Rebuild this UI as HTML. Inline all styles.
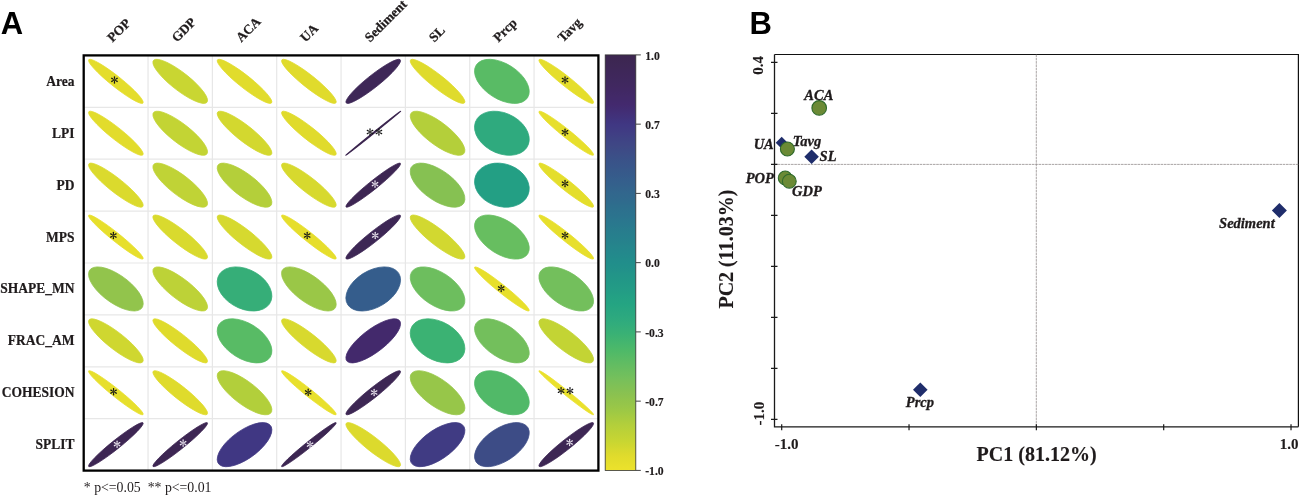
<!DOCTYPE html>
<html><head><meta charset="utf-8"><style>
html,body{margin:0;padding:0;background:#fff;}
svg{display:block;will-change:transform;}
</style></head><body>
<svg width="1299" height="495" viewBox="0 0 1299 495">
<rect width="1299" height="495" fill="#fff"/>
<text x="0.8" y="34.3" style="font-family:'Liberation Sans',sans-serif;font-weight:bold;font-size:31px" fill="#000">A</text>
<text x="749.6" y="34.2" style="font-family:'Liberation Sans',sans-serif;font-weight:bold;font-size:31px" fill="#000">B</text>
<path d="M148.04,55.4V470.6M83.7,107.30H598.4M212.38,55.4V470.6M83.7,159.20H598.4M276.71,55.4V470.6M83.7,211.10H598.4M341.05,55.4V470.6M83.7,263.00H598.4M405.39,55.4V470.6M83.7,314.90H598.4M469.72,55.4V470.6M83.7,366.80H598.4M534.06,55.4V470.6M83.7,418.70H598.4" stroke="#e7e7e7" stroke-width="1.2" fill="none"/>
<ellipse transform="translate(115.87,81.35) scale(27.343,-22.058) rotate(45)" rx="0.2191" ry="1.3971" fill="#e4dd2c" stroke="#e4dd2c" stroke-width="0.8" vector-effect="non-scaling-stroke"/>
<path d="M114.77,79.60L115.19,76.85A0.72,0.72 0 0 0 113.75,76.85L114.17,79.60ZM114.88,80.01L117.47,79.00A0.72,0.72 0 0 0 116.75,77.75L114.58,79.49ZM114.58,80.31L116.75,82.05A0.72,0.72 0 0 0 117.47,80.80L114.88,79.79ZM114.17,80.20L113.75,82.95A0.72,0.72 0 0 0 115.19,82.95L114.77,80.20ZM114.06,79.79L111.47,80.80A0.72,0.72 0 0 0 112.19,82.05L114.36,80.31ZM114.36,79.49L112.19,77.75A0.72,0.72 0 0 0 111.47,79.00L114.06,80.01Z" fill="#151515"/>
<ellipse transform="translate(180.21,81.35) scale(27.343,-22.058) rotate(45)" rx="0.3688" ry="1.3653" fill="#c9d632" stroke="#c9d632" stroke-width="0.8" vector-effect="non-scaling-stroke"/>
<ellipse transform="translate(244.54,81.35) scale(27.343,-22.058) rotate(45)" rx="0.2550" ry="1.3910" fill="#e1dc2c" stroke="#e1dc2c" stroke-width="0.8" vector-effect="non-scaling-stroke"/>
<ellipse transform="translate(308.88,81.35) scale(27.343,-22.058) rotate(45)" rx="0.2608" ry="1.3900" fill="#e0db2c" stroke="#e0db2c" stroke-width="0.8" vector-effect="non-scaling-stroke"/>
<ellipse transform="translate(373.22,81.35) scale(27.343,-22.058) rotate(45)" rx="1.3918" ry="0.2510" fill="#3e2757" stroke="#3e2757" stroke-width="0.8" vector-effect="non-scaling-stroke"/>
<ellipse transform="translate(437.56,81.35) scale(27.343,-22.058) rotate(45)" rx="0.2720" ry="1.3878" fill="#dfdb2c" stroke="#dfdb2c" stroke-width="0.8" vector-effect="non-scaling-stroke"/>
<ellipse transform="translate(501.89,81.35) scale(27.343,-22.058) rotate(45)" rx="0.7348" ry="1.2083" fill="#59bb65" stroke="#59bb65" stroke-width="0.8" vector-effect="non-scaling-stroke"/>
<ellipse transform="translate(566.23,81.35) scale(27.343,-22.058) rotate(45)" rx="0.2049" ry="1.3993" fill="#e5de2c" stroke="#e5de2c" stroke-width="0.8" vector-effect="non-scaling-stroke"/>
<path d="M565.33,79.70L565.75,76.95A0.72,0.72 0 0 0 564.31,76.95L564.73,79.70ZM565.44,80.11L568.03,79.10A0.72,0.72 0 0 0 567.31,77.85L565.14,79.59ZM565.14,80.41L567.31,82.15A0.72,0.72 0 0 0 568.03,80.90L565.44,79.89ZM564.73,80.30L564.31,83.05A0.72,0.72 0 0 0 565.75,83.05L565.33,80.30ZM564.62,79.89L562.03,80.90A0.72,0.72 0 0 0 562.75,82.15L564.92,80.41ZM564.92,79.59L562.75,77.85A0.72,0.72 0 0 0 562.03,79.10L564.62,80.11Z" fill="#151515"/>
<ellipse transform="translate(115.87,133.25) scale(27.343,-22.058) rotate(45)" rx="0.2449" ry="1.3928" fill="#e2dc2c" stroke="#e2dc2c" stroke-width="0.8" vector-effect="non-scaling-stroke"/>
<ellipse transform="translate(180.21,133.25) scale(27.343,-22.058) rotate(45)" rx="0.3975" ry="1.3572" fill="#c3d434" stroke="#c3d434" stroke-width="0.8" vector-effect="non-scaling-stroke"/>
<ellipse transform="translate(244.54,133.25) scale(27.343,-22.058) rotate(45)" rx="0.3302" ry="1.3751" fill="#d3d82f" stroke="#d3d82f" stroke-width="0.8" vector-effect="non-scaling-stroke"/>
<ellipse transform="translate(308.88,133.25) scale(27.343,-22.058) rotate(45)" rx="0.2646" ry="1.3892" fill="#e0db2c" stroke="#e0db2c" stroke-width="0.8" vector-effect="non-scaling-stroke"/>
<ellipse transform="translate(373.22,133.25) scale(27.343,-22.058) rotate(45)" rx="1.4141" ry="0.0200" fill="#3c2650" stroke="#3c2650" stroke-width="1.25" vector-effect="non-scaling-stroke"/>
<path d="M370.32,131.70L370.74,128.95A0.72,0.72 0 0 0 369.30,128.95L369.72,131.70ZM370.43,132.11L373.02,131.10A0.72,0.72 0 0 0 372.30,129.85L370.13,131.59ZM370.13,132.41L372.30,134.15A0.72,0.72 0 0 0 373.02,132.90L370.43,131.89ZM369.72,132.30L369.30,135.05A0.72,0.72 0 0 0 370.74,135.05L370.32,132.30ZM369.61,131.89L367.02,132.90A0.72,0.72 0 0 0 367.74,134.15L369.91,132.41ZM369.91,131.59L367.74,129.85A0.72,0.72 0 0 0 367.02,131.10L369.61,132.11Z" fill="#151515"/>
<path d="M379.22,131.70L379.64,128.95A0.72,0.72 0 0 0 378.20,128.95L378.62,131.70ZM379.33,132.11L381.92,131.10A0.72,0.72 0 0 0 381.20,129.85L379.03,131.59ZM379.03,132.41L381.20,134.15A0.72,0.72 0 0 0 381.92,132.90L379.33,131.89ZM378.62,132.30L378.20,135.05A0.72,0.72 0 0 0 379.64,135.05L379.22,132.30ZM378.51,131.89L375.92,132.90A0.72,0.72 0 0 0 376.64,134.15L378.81,132.41ZM378.81,131.59L376.64,129.85A0.72,0.72 0 0 0 375.92,131.10L378.51,132.11Z" fill="#151515"/>
<ellipse transform="translate(437.56,133.25) scale(27.343,-22.058) rotate(45)" rx="0.4637" ry="1.3360" fill="#b4cf3a" stroke="#b4cf3a" stroke-width="0.8" vector-effect="non-scaling-stroke"/>
<ellipse transform="translate(501.89,133.25) scale(27.343,-22.058) rotate(45)" rx="0.8503" ry="1.1300" fill="#2faa7e" stroke="#2faa7e" stroke-width="0.8" vector-effect="non-scaling-stroke"/>
<ellipse transform="translate(566.23,133.25) scale(27.343,-22.058) rotate(45)" rx="0.1703" ry="1.4039" fill="#e7df2c" stroke="#e7df2c" stroke-width="0.8" vector-effect="non-scaling-stroke"/>
<path d="M565.33,131.90L565.75,129.15A0.72,0.72 0 0 0 564.31,129.15L564.73,131.90ZM565.44,132.31L568.03,131.30A0.72,0.72 0 0 0 567.31,130.05L565.14,131.79ZM565.14,132.61L567.31,134.35A0.72,0.72 0 0 0 568.03,133.10L565.44,132.09ZM564.73,132.50L564.31,135.25A0.72,0.72 0 0 0 565.75,135.25L565.33,132.50ZM564.62,132.09L562.03,133.10A0.72,0.72 0 0 0 562.75,134.35L564.92,132.61ZM564.92,131.79L562.75,130.05A0.72,0.72 0 0 0 562.03,131.30L564.62,132.31Z" fill="#151515"/>
<ellipse transform="translate(115.87,185.15) scale(27.343,-22.058) rotate(45)" rx="0.2898" ry="1.3842" fill="#dbda2d" stroke="#dbda2d" stroke-width="0.8" vector-effect="non-scaling-stroke"/>
<ellipse transform="translate(180.21,185.15) scale(27.343,-22.058) rotate(45)" rx="0.4147" ry="1.3520" fill="#c0d336" stroke="#c0d336" stroke-width="0.8" vector-effect="non-scaling-stroke"/>
<ellipse transform="translate(244.54,185.15) scale(27.343,-22.058) rotate(45)" rx="0.4637" ry="1.3360" fill="#b4cf3a" stroke="#b4cf3a" stroke-width="0.8" vector-effect="non-scaling-stroke"/>
<ellipse transform="translate(308.88,185.15) scale(27.343,-22.058) rotate(45)" rx="0.3114" ry="1.3795" fill="#d7d92e" stroke="#d7d92e" stroke-width="0.8" vector-effect="non-scaling-stroke"/>
<ellipse transform="translate(373.22,185.15) scale(27.343,-22.058) rotate(45)" rx="1.4032" ry="0.1761" fill="#3d2653" stroke="#3d2653" stroke-width="0.8" vector-effect="non-scaling-stroke"/>
<path d="M375.32,183.80L375.74,181.05A0.72,0.72 0 0 0 374.30,181.05L374.72,183.80ZM375.43,184.21L378.02,183.20A0.72,0.72 0 0 0 377.30,181.95L375.13,183.69ZM375.13,184.51L377.30,186.25A0.72,0.72 0 0 0 378.02,185.00L375.43,183.99ZM374.72,184.40L374.30,187.15A0.72,0.72 0 0 0 375.74,187.15L375.32,184.40ZM374.61,183.99L372.02,185.00A0.72,0.72 0 0 0 372.74,186.25L374.91,184.51ZM374.91,183.69L372.74,181.95A0.72,0.72 0 0 0 372.02,183.20L374.61,184.21Z" fill="#ebe6f0"/>
<ellipse transform="translate(437.56,185.15) scale(27.343,-22.058) rotate(45)" rx="0.6189" ry="1.2716" fill="#86c152" stroke="#86c152" stroke-width="0.8" vector-effect="non-scaling-stroke"/>
<ellipse transform="translate(501.89,185.15) scale(27.343,-22.058) rotate(45)" rx="0.9192" ry="1.0747" fill="#239f84" stroke="#239f84" stroke-width="0.8" vector-effect="non-scaling-stroke"/>
<ellipse transform="translate(566.23,185.15) scale(27.343,-22.058) rotate(45)" rx="0.2121" ry="1.3982" fill="#e4de2c" stroke="#e4de2c" stroke-width="0.8" vector-effect="non-scaling-stroke"/>
<path d="M565.33,183.30L565.75,180.55A0.72,0.72 0 0 0 564.31,180.55L564.73,183.30ZM565.44,183.71L568.03,182.70A0.72,0.72 0 0 0 567.31,181.45L565.14,183.19ZM565.14,184.01L567.31,185.75A0.72,0.72 0 0 0 568.03,184.50L565.44,183.49ZM564.73,183.90L564.31,186.65A0.72,0.72 0 0 0 565.75,186.65L565.33,183.90ZM564.62,183.49L562.03,184.50A0.72,0.72 0 0 0 562.75,185.75L564.92,184.01ZM564.92,183.19L562.75,181.45A0.72,0.72 0 0 0 562.03,182.70L564.62,183.71Z" fill="#151515"/>
<ellipse transform="translate(115.87,237.05) scale(27.343,-22.058) rotate(45)" rx="0.1761" ry="1.4032" fill="#e7df2c" stroke="#e7df2c" stroke-width="0.8" vector-effect="non-scaling-stroke"/>
<path d="M113.67,235.20L114.09,232.45A0.72,0.72 0 0 0 112.65,232.45L113.07,235.20ZM113.78,235.61L116.37,234.60A0.72,0.72 0 0 0 115.65,233.35L113.48,235.09ZM113.48,235.91L115.65,237.65A0.72,0.72 0 0 0 116.37,236.40L113.78,235.39ZM113.07,235.80L112.65,238.55A0.72,0.72 0 0 0 114.09,238.55L113.67,235.80ZM112.96,235.39L110.37,236.40A0.72,0.72 0 0 0 111.09,237.65L113.26,235.91ZM113.26,235.09L111.09,233.35A0.72,0.72 0 0 0 110.37,234.60L112.96,235.61Z" fill="#151515"/>
<ellipse transform="translate(180.21,237.05) scale(27.343,-22.058) rotate(45)" rx="0.3017" ry="1.3817" fill="#d9da2e" stroke="#d9da2e" stroke-width="0.8" vector-effect="non-scaling-stroke"/>
<ellipse transform="translate(244.54,237.05) scale(27.343,-22.058) rotate(45)" rx="0.3162" ry="1.3784" fill="#d6d92f" stroke="#d6d92f" stroke-width="0.8" vector-effect="non-scaling-stroke"/>
<ellipse transform="translate(308.88,237.05) scale(27.343,-22.058) rotate(45)" rx="0.1924" ry="1.4011" fill="#e6de2c" stroke="#e6de2c" stroke-width="0.8" vector-effect="non-scaling-stroke"/>
<path d="M307.48,235.20L307.90,232.45A0.72,0.72 0 0 0 306.46,232.45L306.88,235.20ZM307.59,235.61L310.18,234.60A0.72,0.72 0 0 0 309.46,233.35L307.29,235.09ZM307.29,235.91L309.46,237.65A0.72,0.72 0 0 0 310.18,236.40L307.59,235.39ZM306.88,235.80L306.46,238.55A0.72,0.72 0 0 0 307.90,238.55L307.48,235.80ZM306.77,235.39L304.18,236.40A0.72,0.72 0 0 0 304.90,237.65L307.07,235.91ZM307.07,235.09L304.90,233.35A0.72,0.72 0 0 0 304.18,234.60L306.77,235.61Z" fill="#151515"/>
<ellipse transform="translate(373.22,237.05) scale(27.343,-22.058) rotate(45)" rx="1.3982" ry="0.2121" fill="#3d2755" stroke="#3d2755" stroke-width="0.8" vector-effect="non-scaling-stroke"/>
<path d="M375.52,235.20L375.94,232.45A0.72,0.72 0 0 0 374.50,232.45L374.92,235.20ZM375.63,235.61L378.22,234.60A0.72,0.72 0 0 0 377.50,233.35L375.33,235.09ZM375.33,235.91L377.50,237.65A0.72,0.72 0 0 0 378.22,236.40L375.63,235.39ZM374.92,235.80L374.50,238.55A0.72,0.72 0 0 0 375.94,238.55L375.52,235.80ZM374.81,235.39L372.22,236.40A0.72,0.72 0 0 0 372.94,237.65L375.11,235.91ZM375.11,235.09L372.94,233.35A0.72,0.72 0 0 0 372.22,234.60L374.81,235.61Z" fill="#ebe6f0"/>
<ellipse transform="translate(437.56,237.05) scale(27.343,-22.058) rotate(45)" rx="0.3332" ry="1.3744" fill="#d2d830" stroke="#d2d830" stroke-width="0.8" vector-effect="non-scaling-stroke"/>
<ellipse transform="translate(501.89,237.05) scale(27.343,-22.058) rotate(45)" rx="0.7021" ry="1.2276" fill="#67be60" stroke="#67be60" stroke-width="0.8" vector-effect="non-scaling-stroke"/>
<ellipse transform="translate(566.23,237.05) scale(27.343,-22.058) rotate(45)" rx="0.1761" ry="1.4032" fill="#e7df2c" stroke="#e7df2c" stroke-width="0.8" vector-effect="non-scaling-stroke"/>
<path d="M565.33,235.10L565.75,232.35A0.72,0.72 0 0 0 564.31,232.35L564.73,235.10ZM565.44,235.51L568.03,234.50A0.72,0.72 0 0 0 567.31,233.25L565.14,234.99ZM565.14,235.81L567.31,237.55A0.72,0.72 0 0 0 568.03,236.30L565.44,235.29ZM564.73,235.70L564.31,238.45A0.72,0.72 0 0 0 565.75,238.45L565.33,235.70ZM564.62,235.29L562.03,236.30A0.72,0.72 0 0 0 562.75,237.55L564.92,235.81ZM564.92,234.99L562.75,233.25A0.72,0.72 0 0 0 562.03,234.50L564.62,235.51Z" fill="#151515"/>
<ellipse transform="translate(115.87,288.95) scale(27.343,-22.058) rotate(45)" rx="0.5771" ry="1.2911" fill="#92c44c" stroke="#92c44c" stroke-width="0.8" vector-effect="non-scaling-stroke"/>
<ellipse transform="translate(180.21,288.95) scale(27.343,-22.058) rotate(45)" rx="0.4266" ry="1.3483" fill="#bdd237" stroke="#bdd237" stroke-width="0.8" vector-effect="non-scaling-stroke"/>
<ellipse transform="translate(244.54,288.95) scale(27.343,-22.058) rotate(45)" rx="0.8258" ry="1.1480" fill="#36ae78" stroke="#36ae78" stroke-width="0.8" vector-effect="non-scaling-stroke"/>
<ellipse transform="translate(308.88,288.95) scale(27.343,-22.058) rotate(45)" rx="0.5477" ry="1.3038" fill="#9ac747" stroke="#9ac747" stroke-width="0.8" vector-effect="non-scaling-stroke"/>
<ellipse transform="translate(373.22,288.95) scale(27.343,-22.058) rotate(45)" rx="1.1874" ry="0.7681" fill="#355d8c" stroke="#355d8c" stroke-width="0.8" vector-effect="non-scaling-stroke"/>
<ellipse transform="translate(437.56,288.95) scale(27.343,-22.058) rotate(45)" rx="0.6877" ry="1.2357" fill="#6dbe5e" stroke="#6dbe5e" stroke-width="0.8" vector-effect="non-scaling-stroke"/>
<ellipse transform="translate(501.89,288.95) scale(27.343,-22.058) rotate(45)" rx="0.1673" ry="1.4043" fill="#e7df2c" stroke="#e7df2c" stroke-width="0.8" vector-effect="non-scaling-stroke"/>
<path d="M501.49,288.10L501.91,285.35A0.72,0.72 0 0 0 500.47,285.35L500.89,288.10ZM501.60,288.51L504.20,287.50A0.72,0.72 0 0 0 503.48,286.25L501.30,287.99ZM501.30,288.81L503.48,290.55A0.72,0.72 0 0 0 504.20,289.30L501.60,288.29ZM500.89,288.70L500.47,291.45A0.72,0.72 0 0 0 501.91,291.45L501.49,288.70ZM500.78,288.29L498.19,289.30A0.72,0.72 0 0 0 498.91,290.55L501.08,288.81ZM501.08,287.99L498.91,286.25A0.72,0.72 0 0 0 498.19,287.50L500.78,288.51Z" fill="#151515"/>
<ellipse transform="translate(566.23,288.95) scale(27.343,-22.058) rotate(45)" rx="0.6708" ry="1.2450" fill="#73bf5c" stroke="#73bf5c" stroke-width="0.8" vector-effect="non-scaling-stroke"/>
<ellipse transform="translate(115.87,340.85) scale(27.343,-22.058) rotate(45)" rx="0.3464" ry="1.3711" fill="#cfd730" stroke="#cfd730" stroke-width="0.8" vector-effect="non-scaling-stroke"/>
<ellipse transform="translate(180.21,340.85) scale(27.343,-22.058) rotate(45)" rx="0.2702" ry="1.3882" fill="#dfdb2c" stroke="#dfdb2c" stroke-width="0.8" vector-effect="non-scaling-stroke"/>
<ellipse transform="translate(244.54,340.85) scale(27.343,-22.058) rotate(45)" rx="0.7369" ry="1.2071" fill="#58bb65" stroke="#58bb65" stroke-width="0.8" vector-effect="non-scaling-stroke"/>
<ellipse transform="translate(308.88,340.85) scale(27.343,-22.058) rotate(45)" rx="0.3050" ry="1.3809" fill="#d8d92e" stroke="#d8d92e" stroke-width="0.8" vector-effect="non-scaling-stroke"/>
<ellipse transform="translate(373.22,340.85) scale(27.343,-22.058) rotate(45)" rx="1.3319" ry="0.4754" fill="#43296c" stroke="#43296c" stroke-width="0.8" vector-effect="non-scaling-stroke"/>
<ellipse transform="translate(437.56,340.85) scale(27.343,-22.058) rotate(45)" rx="0.8062" ry="1.1619" fill="#3bb273" stroke="#3bb273" stroke-width="0.8" vector-effect="non-scaling-stroke"/>
<ellipse transform="translate(501.89,340.85) scale(27.343,-22.058) rotate(45)" rx="0.6708" ry="1.2450" fill="#73bf5c" stroke="#73bf5c" stroke-width="0.8" vector-effect="non-scaling-stroke"/>
<ellipse transform="translate(566.23,340.85) scale(27.343,-22.058) rotate(45)" rx="0.3987" ry="1.3568" fill="#c3d434" stroke="#c3d434" stroke-width="0.8" vector-effect="non-scaling-stroke"/>
<ellipse transform="translate(115.87,392.75) scale(27.343,-22.058) rotate(45)" rx="0.1673" ry="1.4043" fill="#e7df2c" stroke="#e7df2c" stroke-width="0.8" vector-effect="non-scaling-stroke"/>
<path d="M113.87,391.40L114.29,388.65A0.72,0.72 0 0 0 112.85,388.65L113.27,391.40ZM113.98,391.81L116.57,390.80A0.72,0.72 0 0 0 115.85,389.55L113.68,391.29ZM113.68,392.11L115.85,393.85A0.72,0.72 0 0 0 116.57,392.60L113.98,391.59ZM113.27,392.00L112.85,394.75A0.72,0.72 0 0 0 114.29,394.75L113.87,392.00ZM113.16,391.59L110.57,392.60A0.72,0.72 0 0 0 111.29,393.85L113.46,392.11ZM113.46,391.29L111.29,389.55A0.72,0.72 0 0 0 110.57,390.80L113.16,391.81Z" fill="#151515"/>
<ellipse transform="translate(180.21,392.75) scale(27.343,-22.058) rotate(45)" rx="0.2683" ry="1.3885" fill="#dfdb2c" stroke="#dfdb2c" stroke-width="0.8" vector-effect="non-scaling-stroke"/>
<ellipse transform="translate(244.54,392.75) scale(27.343,-22.058) rotate(45)" rx="0.4722" ry="1.3330" fill="#b2cf3b" stroke="#b2cf3b" stroke-width="0.8" vector-effect="non-scaling-stroke"/>
<ellipse transform="translate(308.88,392.75) scale(27.343,-22.058) rotate(45)" rx="0.1549" ry="1.4057" fill="#e8e02c" stroke="#e8e02c" stroke-width="0.8" vector-effect="non-scaling-stroke"/>
<path d="M308.48,392.00L308.90,389.25A0.72,0.72 0 0 0 307.46,389.25L307.88,392.00ZM308.59,392.41L311.18,391.40A0.72,0.72 0 0 0 310.46,390.15L308.29,391.89ZM308.29,392.71L310.46,394.45A0.72,0.72 0 0 0 311.18,393.20L308.59,392.19ZM307.88,392.60L307.46,395.35A0.72,0.72 0 0 0 308.90,395.35L308.48,392.60ZM307.77,392.19L305.18,393.20A0.72,0.72 0 0 0 305.90,394.45L308.07,392.71ZM308.07,391.89L305.90,390.15A0.72,0.72 0 0 0 305.18,391.40L307.77,392.41Z" fill="#151515"/>
<ellipse transform="translate(373.22,392.75) scale(27.343,-22.058) rotate(45)" rx="1.3996" ry="0.2025" fill="#3d2754" stroke="#3d2754" stroke-width="0.8" vector-effect="non-scaling-stroke"/>
<path d="M374.42,392.20L374.84,389.45A0.72,0.72 0 0 0 373.40,389.45L373.82,392.20ZM374.53,392.61L377.12,391.60A0.72,0.72 0 0 0 376.40,390.35L374.23,392.09ZM374.23,392.91L376.40,394.65A0.72,0.72 0 0 0 377.12,393.40L374.53,392.39ZM373.82,392.80L373.40,395.55A0.72,0.72 0 0 0 374.84,395.55L374.42,392.80ZM373.71,392.39L371.12,393.40A0.72,0.72 0 0 0 371.84,394.65L374.01,392.91ZM374.01,392.09L371.84,390.35A0.72,0.72 0 0 0 371.12,391.60L373.71,392.61Z" fill="#ebe6f0"/>
<ellipse transform="translate(437.56,392.75) scale(27.343,-22.058) rotate(45)" rx="0.5595" ry="1.2988" fill="#97c649" stroke="#97c649" stroke-width="0.8" vector-effect="non-scaling-stroke"/>
<ellipse transform="translate(501.89,392.75) scale(27.343,-22.058) rotate(45)" rx="0.7537" ry="1.1967" fill="#51b968" stroke="#51b968" stroke-width="0.8" vector-effect="non-scaling-stroke"/>
<ellipse transform="translate(566.23,392.75) scale(27.343,-22.058) rotate(45)" rx="0.1000" ry="1.4107" fill="#eae12c" stroke="#eae12c" stroke-width="0.8" vector-effect="non-scaling-stroke"/>
<path d="M561.38,390.50L561.80,387.75A0.72,0.72 0 0 0 560.36,387.75L560.78,390.50ZM561.49,390.91L564.08,389.90A0.72,0.72 0 0 0 563.36,388.65L561.19,390.39ZM561.19,391.21L563.36,392.95A0.72,0.72 0 0 0 564.08,391.70L561.49,390.69ZM560.78,391.10L560.36,393.85A0.72,0.72 0 0 0 561.80,393.85L561.38,391.10ZM560.67,390.69L558.08,391.70A0.72,0.72 0 0 0 558.80,392.95L560.97,391.21ZM560.97,390.39L558.80,388.65A0.72,0.72 0 0 0 558.08,389.90L560.67,390.91Z" fill="#151515"/>
<path d="M570.28,390.50L570.70,387.75A0.72,0.72 0 0 0 569.26,387.75L569.68,390.50ZM570.39,390.91L572.98,389.90A0.72,0.72 0 0 0 572.26,388.65L570.09,390.39ZM570.09,391.21L572.26,392.95A0.72,0.72 0 0 0 572.98,391.70L570.39,390.69ZM569.68,391.10L569.26,393.85A0.72,0.72 0 0 0 570.70,393.85L570.28,391.10ZM569.57,390.69L566.98,391.70A0.72,0.72 0 0 0 567.70,392.95L569.87,391.21ZM569.87,390.39L567.70,388.65A0.72,0.72 0 0 0 566.98,389.90L569.57,390.91Z" fill="#151515"/>
<ellipse transform="translate(115.87,444.65) scale(27.343,-22.058) rotate(45)" rx="1.4029" ry="0.1789" fill="#3d2653" stroke="#3d2653" stroke-width="0.8" vector-effect="non-scaling-stroke"/>
<path d="M117.37,443.90L117.79,441.15A0.72,0.72 0 0 0 116.35,441.15L116.77,443.90ZM117.48,444.31L120.07,443.30A0.72,0.72 0 0 0 119.35,442.05L117.18,443.79ZM117.18,444.61L119.35,446.35A0.72,0.72 0 0 0 120.07,445.10L117.48,444.09ZM116.77,444.50L116.35,447.25A0.72,0.72 0 0 0 117.79,447.25L117.37,444.50ZM116.66,444.09L114.07,445.10A0.72,0.72 0 0 0 114.79,446.35L116.96,444.61ZM116.96,443.79L114.79,442.05A0.72,0.72 0 0 0 114.07,443.30L116.66,444.31Z" fill="#ebe6f0"/>
<ellipse transform="translate(180.21,444.65) scale(27.343,-22.058) rotate(45)" rx="1.4036" ry="0.1732" fill="#3d2653" stroke="#3d2653" stroke-width="0.8" vector-effect="non-scaling-stroke"/>
<path d="M183.41,442.80L183.83,440.05A0.72,0.72 0 0 0 182.39,440.05L182.81,442.80ZM183.52,443.21L186.11,442.20A0.72,0.72 0 0 0 185.39,440.95L183.22,442.69ZM183.22,443.51L185.39,445.25A0.72,0.72 0 0 0 186.11,444.00L183.52,442.99ZM182.81,443.40L182.39,446.15A0.72,0.72 0 0 0 183.83,446.15L183.41,443.40ZM182.70,442.99L180.10,444.00A0.72,0.72 0 0 0 180.82,445.25L183.00,443.51ZM183.00,442.69L180.82,440.95A0.72,0.72 0 0 0 180.10,442.20L182.70,443.21Z" fill="#ebe6f0"/>
<ellipse transform="translate(244.54,444.65) scale(27.343,-22.058) rotate(45)" rx="1.2911" ry="0.5771" fill="#403783" stroke="#403783" stroke-width="0.8" vector-effect="non-scaling-stroke"/>
<ellipse transform="translate(308.88,444.65) scale(27.343,-22.058) rotate(45)" rx="1.4089" ry="0.1225" fill="#3c2652" stroke="#3c2652" stroke-width="0.8" vector-effect="non-scaling-stroke"/>
<path d="M310.38,444.35L310.80,441.60A0.72,0.72 0 0 0 309.36,441.60L309.78,444.35ZM310.49,444.76L313.08,443.75A0.72,0.72 0 0 0 312.36,442.50L310.19,444.24ZM310.19,445.06L312.36,446.80A0.72,0.72 0 0 0 313.08,445.55L310.49,444.54ZM309.78,444.95L309.36,447.70A0.72,0.72 0 0 0 310.80,447.70L310.38,444.95ZM309.67,444.54L307.08,445.55A0.72,0.72 0 0 0 307.80,446.80L309.97,445.06ZM309.97,444.24L307.80,442.50A0.72,0.72 0 0 0 307.08,443.75L309.67,444.76Z" fill="#ebe6f0"/>
<ellipse transform="translate(373.22,444.65) scale(27.343,-22.058) rotate(45)" rx="0.2881" ry="1.3846" fill="#dcda2d" stroke="#dcda2d" stroke-width="0.8" vector-effect="non-scaling-stroke"/>
<ellipse transform="translate(437.56,444.65) scale(27.343,-22.058) rotate(45)" rx="1.2806" ry="0.6000" fill="#403b83" stroke="#403b83" stroke-width="0.8" vector-effect="non-scaling-stroke"/>
<ellipse transform="translate(501.89,444.65) scale(27.343,-22.058) rotate(45)" rx="1.2394" ry="0.6812" fill="#3d4c86" stroke="#3d4c86" stroke-width="0.8" vector-effect="non-scaling-stroke"/>
<ellipse transform="translate(566.23,444.65) scale(27.343,-22.058) rotate(45)" rx="1.3996" ry="0.2025" fill="#3d2754" stroke="#3d2754" stroke-width="0.8" vector-effect="non-scaling-stroke"/>
<path d="M569.93,442.20L570.35,439.45A0.72,0.72 0 0 0 568.91,439.45L569.33,442.20ZM570.04,442.61L572.63,441.60A0.72,0.72 0 0 0 571.91,440.35L569.74,442.09ZM569.74,442.91L571.91,444.65A0.72,0.72 0 0 0 572.63,443.40L570.04,442.39ZM569.33,442.80L568.91,445.55A0.72,0.72 0 0 0 570.35,445.55L569.93,442.80ZM569.22,442.39L566.63,443.40A0.72,0.72 0 0 0 567.35,444.65L569.52,442.91ZM569.52,442.09L567.35,440.35A0.72,0.72 0 0 0 566.63,441.60L569.22,442.61Z" fill="#ebe6f0"/>
<rect x="83.7" y="55.4" width="514.70" height="415.20" fill="none" stroke="#000" stroke-width="2.3"/>
<text transform="translate(74.4,85.85) scale(1,1.12)" text-anchor="end" style="font-family:'Liberation Serif',serif;font-weight:bold;font-size:13.5px" fill="#1f1b1c" stroke="#1f1b1c" stroke-width="0.2">Area</text>
<text transform="translate(74.4,137.75) scale(1,1.12)" text-anchor="end" style="font-family:'Liberation Serif',serif;font-weight:bold;font-size:13.5px" fill="#1f1b1c" stroke="#1f1b1c" stroke-width="0.2">LPI</text>
<text transform="translate(74.4,189.65) scale(1,1.12)" text-anchor="end" style="font-family:'Liberation Serif',serif;font-weight:bold;font-size:13.5px" fill="#1f1b1c" stroke="#1f1b1c" stroke-width="0.2">PD</text>
<text transform="translate(74.4,241.55) scale(1,1.12)" text-anchor="end" style="font-family:'Liberation Serif',serif;font-weight:bold;font-size:13.5px" fill="#1f1b1c" stroke="#1f1b1c" stroke-width="0.2">MPS</text>
<text transform="translate(74.4,293.45) scale(1,1.12)" text-anchor="end" style="font-family:'Liberation Serif',serif;font-weight:bold;font-size:13.5px" fill="#1f1b1c" stroke="#1f1b1c" stroke-width="0.2">SHAPE_MN</text>
<text transform="translate(74.4,345.35) scale(1,1.12)" text-anchor="end" style="font-family:'Liberation Serif',serif;font-weight:bold;font-size:13.5px" fill="#1f1b1c" stroke="#1f1b1c" stroke-width="0.2">FRAC_AM</text>
<text transform="translate(74.4,397.25) scale(1,1.12)" text-anchor="end" style="font-family:'Liberation Serif',serif;font-weight:bold;font-size:13.5px" fill="#1f1b1c" stroke="#1f1b1c" stroke-width="0.2">COHESION</text>
<text transform="translate(74.4,449.15) scale(1,1.12)" text-anchor="end" style="font-family:'Liberation Serif',serif;font-weight:bold;font-size:13.5px" fill="#1f1b1c" stroke="#1f1b1c" stroke-width="0.2">SPLIT</text>
<text transform="translate(112.57,42.8) rotate(-45)" style="font-family:'Liberation Serif',serif;font-weight:bold;font-size:13.3px" fill="#1f1b1c" stroke="#1f1b1c" stroke-width="0.25">POP</text>
<text transform="translate(176.91,42.8) rotate(-45)" style="font-family:'Liberation Serif',serif;font-weight:bold;font-size:13.3px" fill="#1f1b1c" stroke="#1f1b1c" stroke-width="0.25">GDP</text>
<text transform="translate(241.24,42.8) rotate(-45)" style="font-family:'Liberation Serif',serif;font-weight:bold;font-size:13.3px" fill="#1f1b1c" stroke="#1f1b1c" stroke-width="0.25">ACA</text>
<text transform="translate(305.58,42.8) rotate(-45)" style="font-family:'Liberation Serif',serif;font-weight:bold;font-size:13.3px" fill="#1f1b1c" stroke="#1f1b1c" stroke-width="0.25">UA</text>
<text transform="translate(369.92,42.8) rotate(-45)" style="font-family:'Liberation Serif',serif;font-weight:bold;font-size:13.3px" fill="#1f1b1c" stroke="#1f1b1c" stroke-width="0.25">Sediment</text>
<text transform="translate(434.26,42.8) rotate(-45)" style="font-family:'Liberation Serif',serif;font-weight:bold;font-size:13.3px" fill="#1f1b1c" stroke="#1f1b1c" stroke-width="0.25">SL</text>
<text transform="translate(498.59,42.8) rotate(-45)" style="font-family:'Liberation Serif',serif;font-weight:bold;font-size:13.3px" fill="#1f1b1c" stroke="#1f1b1c" stroke-width="0.25">Prcp</text>
<text transform="translate(562.93,42.8) rotate(-45)" style="font-family:'Liberation Serif',serif;font-weight:bold;font-size:13.3px" fill="#1f1b1c" stroke="#1f1b1c" stroke-width="0.25">Tavg</text>
<defs><linearGradient id="cb" x1="0" y1="0" x2="0" y2="1"><stop offset="0.00" stop-color="#3c2650"/><stop offset="0.01" stop-color="#3d2652"/><stop offset="0.02" stop-color="#3d2754"/><stop offset="0.03" stop-color="#3e2756"/><stop offset="0.04" stop-color="#3e2759"/><stop offset="0.05" stop-color="#3f275b"/><stop offset="0.06" stop-color="#3f285d"/><stop offset="0.07" stop-color="#40285f"/><stop offset="0.08" stop-color="#412862"/><stop offset="0.09" stop-color="#412865"/><stop offset="0.10" stop-color="#422968"/><stop offset="0.11" stop-color="#42296b"/><stop offset="0.12" stop-color="#43296e"/><stop offset="0.13" stop-color="#422c72"/><stop offset="0.14" stop-color="#422f77"/><stop offset="0.15" stop-color="#41327b"/><stop offset="0.16" stop-color="#403580"/><stop offset="0.17" stop-color="#403883"/><stop offset="0.18" stop-color="#403b83"/><stop offset="0.19" stop-color="#403e84"/><stop offset="0.20" stop-color="#3f4284"/><stop offset="0.21" stop-color="#3f4585"/><stop offset="0.22" stop-color="#3f4885"/><stop offset="0.23" stop-color="#3d4b86"/><stop offset="0.24" stop-color="#3c4e87"/><stop offset="0.25" stop-color="#3a5188"/><stop offset="0.26" stop-color="#395489"/><stop offset="0.27" stop-color="#38568a"/><stop offset="0.28" stop-color="#37598a"/><stop offset="0.29" stop-color="#365b8b"/><stop offset="0.30" stop-color="#355e8c"/><stop offset="0.31" stop-color="#34608c"/><stop offset="0.32" stop-color="#33638c"/><stop offset="0.33" stop-color="#32668d"/><stop offset="0.34" stop-color="#31688d"/><stop offset="0.35" stop-color="#306a8d"/><stop offset="0.36" stop-color="#2e6d8d"/><stop offset="0.37" stop-color="#2d708d"/><stop offset="0.38" stop-color="#2c728e"/><stop offset="0.39" stop-color="#2b748e"/><stop offset="0.40" stop-color="#2a778e"/><stop offset="0.41" stop-color="#29798e"/><stop offset="0.42" stop-color="#287c8d"/><stop offset="0.43" stop-color="#277e8d"/><stop offset="0.44" stop-color="#26808d"/><stop offset="0.45" stop-color="#26828c"/><stop offset="0.46" stop-color="#25858c"/><stop offset="0.47" stop-color="#24878c"/><stop offset="0.48" stop-color="#23898c"/><stop offset="0.49" stop-color="#228c8b"/><stop offset="0.50" stop-color="#218e8b"/><stop offset="0.51" stop-color="#21908a"/><stop offset="0.52" stop-color="#229289"/><stop offset="0.53" stop-color="#229588"/><stop offset="0.54" stop-color="#229787"/><stop offset="0.55" stop-color="#229986"/><stop offset="0.56" stop-color="#239b86"/><stop offset="0.57" stop-color="#239d85"/><stop offset="0.58" stop-color="#23a084"/><stop offset="0.59" stop-color="#24a283"/><stop offset="0.60" stop-color="#24a482"/><stop offset="0.61" stop-color="#27a681"/><stop offset="0.62" stop-color="#2aa780"/><stop offset="0.63" stop-color="#2ca97f"/><stop offset="0.64" stop-color="#2fab7d"/><stop offset="0.65" stop-color="#32ad7b"/><stop offset="0.66" stop-color="#36af78"/><stop offset="0.67" stop-color="#39b175"/><stop offset="0.68" stop-color="#3eb372"/><stop offset="0.69" stop-color="#43b56f"/><stop offset="0.70" stop-color="#48b76c"/><stop offset="0.71" stop-color="#4db969"/><stop offset="0.72" stop-color="#53ba67"/><stop offset="0.73" stop-color="#59bb65"/><stop offset="0.74" stop-color="#5fbc63"/><stop offset="0.75" stop-color="#65bd61"/><stop offset="0.76" stop-color="#6bbe5f"/><stop offset="0.77" stop-color="#70bf5d"/><stop offset="0.78" stop-color="#76c05b"/><stop offset="0.79" stop-color="#7cc058"/><stop offset="0.80" stop-color="#81c155"/><stop offset="0.81" stop-color="#87c152"/><stop offset="0.82" stop-color="#8cc24f"/><stop offset="0.83" stop-color="#91c44c"/><stop offset="0.84" stop-color="#95c54a"/><stop offset="0.85" stop-color="#9ac747"/><stop offset="0.86" stop-color="#9fc944"/><stop offset="0.87" stop-color="#a6cb41"/><stop offset="0.88" stop-color="#accd3e"/><stop offset="0.89" stop-color="#b3cf3b"/><stop offset="0.90" stop-color="#b8d139"/><stop offset="0.91" stop-color="#bed236"/><stop offset="0.92" stop-color="#c3d434"/><stop offset="0.93" stop-color="#c8d632"/><stop offset="0.94" stop-color="#cfd730"/><stop offset="0.95" stop-color="#d6d92f"/><stop offset="0.96" stop-color="#ddda2d"/><stop offset="0.97" stop-color="#e2dc2c"/><stop offset="0.98" stop-color="#e5de2c"/><stop offset="0.99" stop-color="#e9e02c"/><stop offset="1.00" stop-color="#ece22c"/></linearGradient></defs>
<rect x="605.2" y="54.9" width="30.60" height="415.50" fill="url(#cb)"/>
<rect x="605.2" y="54.9" width="30.60" height="415.50" fill="none" stroke="#333" stroke-width="0.8"/>
<path d="M635.8,54.90H640.8" stroke="#444" stroke-width="1"/>
<text transform="translate(645.2,59.50) scale(1,1.1)" style="font-family:'Liberation Serif',serif;font-weight:bold;font-size:11.7px" fill="#1f1b1c" stroke="#1f1b1c" stroke-width="0.15">1.0</text>
<path d="M635.8,124.15H640.8" stroke="#444" stroke-width="1"/>
<text transform="translate(645.2,128.75) scale(1,1.1)" style="font-family:'Liberation Serif',serif;font-weight:bold;font-size:11.7px" fill="#1f1b1c" stroke="#1f1b1c" stroke-width="0.15">0.7</text>
<path d="M635.8,193.40H640.8" stroke="#444" stroke-width="1"/>
<text transform="translate(645.2,198.00) scale(1,1.1)" style="font-family:'Liberation Serif',serif;font-weight:bold;font-size:11.7px" fill="#1f1b1c" stroke="#1f1b1c" stroke-width="0.15">0.3</text>
<path d="M635.8,262.65H640.8" stroke="#444" stroke-width="1"/>
<text transform="translate(645.2,267.25) scale(1,1.1)" style="font-family:'Liberation Serif',serif;font-weight:bold;font-size:11.7px" fill="#1f1b1c" stroke="#1f1b1c" stroke-width="0.15">0.0</text>
<path d="M635.8,331.90H640.8" stroke="#444" stroke-width="1"/>
<text transform="translate(645.2,336.50) scale(1,1.1)" style="font-family:'Liberation Serif',serif;font-weight:bold;font-size:11.7px" fill="#1f1b1c" stroke="#1f1b1c" stroke-width="0.15">-0.3</text>
<path d="M635.8,401.15H640.8" stroke="#444" stroke-width="1"/>
<text transform="translate(645.2,405.75) scale(1,1.1)" style="font-family:'Liberation Serif',serif;font-weight:bold;font-size:11.7px" fill="#1f1b1c" stroke="#1f1b1c" stroke-width="0.15">-0.7</text>
<path d="M635.8,470.40H640.8" stroke="#444" stroke-width="1"/>
<text transform="translate(645.2,475.00) scale(1,1.1)" style="font-family:'Liberation Serif',serif;font-weight:bold;font-size:11.7px" fill="#1f1b1c" stroke="#1f1b1c" stroke-width="0.15">-1.0</text>
<text x="83.8" y="491.7" style="font-family:'Liberation Serif',serif;font-size:13.8px;white-space:pre" fill="#1f1b1c" xml:space="preserve">* p&lt;=0.05  ** p&lt;=0.01</text>
<path d="M774.5,54.5H1298.4V426.8" stroke="#111" stroke-width="1.2" fill="none"/>
<path d="M774.5,54.5V426.8H1298.4" stroke="#1a1a1a" stroke-width="1.3" fill="none"/>
<path d="M1036.3,54.5V426.8M774.5,164.4H1298.4" stroke="#8c8686" stroke-width="0.75" stroke-dasharray="2.6,0.7" fill="none"/>
<path d="M771,62.40H777.5M771,113.40H777.5M771,164.40H777.5M771,215.40H777.5M771,266.40H777.5M771,317.40H777.5M771,368.40H777.5M771,419.40H777.5M781.70,424.3V430.3M909.03,424.3V430.3M1036.36,424.3V430.3M1163.69,424.3V430.3M1291.02,424.3V430.3" stroke="#1a1a1a" stroke-width="1.2" fill="none"/>
<text transform="translate(763.2,65.3) rotate(-90)" text-anchor="middle" style="font-family:'Liberation Serif',serif;font-weight:bold;font-size:15px" fill="#1f1b1c" stroke="#1f1b1c" stroke-width="0.15">0.4</text>
<text transform="translate(763.6,413.7) rotate(-90)" text-anchor="middle" style="font-family:'Liberation Serif',serif;font-weight:bold;font-size:15px" fill="#1f1b1c" stroke="#1f1b1c" stroke-width="0.15">-1.0</text>
<text x="786.6" y="448.8" text-anchor="middle" style="font-family:'Liberation Serif',serif;font-weight:bold;font-size:15px" fill="#1f1b1c" stroke="#1f1b1c" stroke-width="0.15">-1.0</text>
<text x="1289" y="448.8" text-anchor="middle" style="font-family:'Liberation Serif',serif;font-weight:bold;font-size:15px" fill="#1f1b1c" stroke="#1f1b1c" stroke-width="0.15">1.0</text>
<text x="1036.6" y="460.9" text-anchor="middle" style="font-family:'Liberation Serif',serif;font-weight:bold;font-size:20px" fill="#1f1b1c" stroke="#1f1b1c" stroke-width="0.15">PC1 (81.12%)</text>
<text transform="translate(732.8,249.1) rotate(-90)" text-anchor="middle" style="font-family:'Liberation Serif',serif;font-weight:bold;font-size:20px" fill="#1f1b1c" stroke="#1f1b1c" stroke-width="0.1">PC2 (11.03%)</text>
<path d="M781.7,136.8L787.7,142.8L781.7,148.8L775.7,142.8Z" fill="#1f2d6b"/>
<path d="M811.6,149.39999999999998L818.9,156.7L811.6,164.0L804.3000000000001,156.7Z" fill="#1f2d6b"/>
<path d="M1279.4,202.9L1286.9,210.4L1279.4,217.9L1271.9,210.4Z" fill="#1f2d6b"/>
<path d="M920.3,382.4L927.5999999999999,389.7L920.3,397.0L913.0,389.7Z" fill="#1f2d6b"/>
<circle cx="819.2" cy="107.9" r="7.3" fill="#6b8a35" stroke="#2f6a2c" stroke-width="1.1"/>
<circle cx="787.4" cy="149.0" r="7.0" fill="#6b8a35" stroke="#2f6a2c" stroke-width="1.1"/>
<circle cx="785.2" cy="177.9" r="6.9" fill="#6b8a35" stroke="#2f6a2c" stroke-width="1.1"/>
<circle cx="789.3" cy="181.2" r="6.9" fill="#6b8a35" stroke="#2f6a2c" stroke-width="1.1"/>
<text x="804.3" y="99.6" text-anchor="start" style="font-family:'Liberation Serif',serif;font-weight:bold;font-style:italic;font-size:14.5px" fill="#1f1b1c" stroke="#1f1b1c" stroke-width="0.3">ACA</text>
<text x="773.8" y="148.7" text-anchor="end" style="font-family:'Liberation Serif',serif;font-weight:bold;font-style:italic;font-size:14.5px" fill="#1f1b1c" stroke="#1f1b1c" stroke-width="0.3">UA</text>
<text x="792.8" y="145.6" text-anchor="start" style="font-family:'Liberation Serif',serif;font-weight:bold;font-style:italic;font-size:14.5px" fill="#1f1b1c" stroke="#1f1b1c" stroke-width="0.3">Tavg</text>
<text x="819.6" y="161.3" text-anchor="start" style="font-family:'Liberation Serif',serif;font-weight:bold;font-style:italic;font-size:14.5px" fill="#1f1b1c" stroke="#1f1b1c" stroke-width="0.3">SL</text>
<text x="773.9" y="182.8" text-anchor="end" style="font-family:'Liberation Serif',serif;font-weight:bold;font-style:italic;font-size:14.5px" fill="#1f1b1c" stroke="#1f1b1c" stroke-width="0.3">POP</text>
<text x="792.1" y="196.1" text-anchor="start" style="font-family:'Liberation Serif',serif;font-weight:bold;font-style:italic;font-size:14.5px" fill="#1f1b1c" stroke="#1f1b1c" stroke-width="0.3">GDP</text>
<text x="1274.7" y="227.7" text-anchor="end" style="font-family:'Liberation Serif',serif;font-weight:bold;font-style:italic;font-size:14.5px" fill="#1f1b1c" stroke="#1f1b1c" stroke-width="0.3">Sediment</text>
<text x="905.8" y="406.9" text-anchor="start" style="font-family:'Liberation Serif',serif;font-weight:bold;font-style:italic;font-size:14.5px" fill="#1f1b1c" stroke="#1f1b1c" stroke-width="0.3">Prcp</text>
</svg>
</body></html>
